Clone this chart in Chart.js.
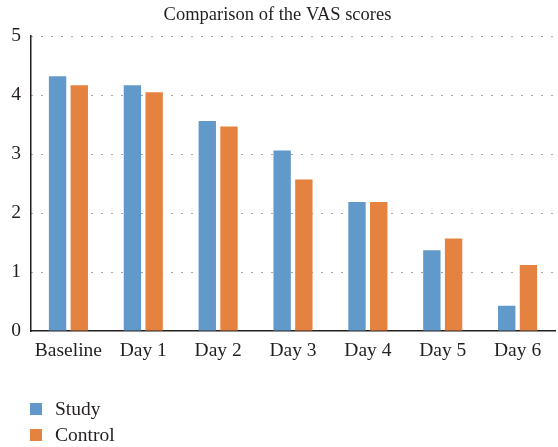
<!DOCTYPE html>
<html>
<head>
<meta charset="utf-8">
<script src="https://cdn.jsdelivr.net/npm/chart.js@4/dist/chart.umd.min.js"></script>
<style>
  html, body { margin: 0; padding: 0; background: #fff; }
  #wrap { position: relative; width: 558px; height: 447px; }
  #legend { position: absolute; left: 30px; top: 396px; font-family: "Liberation Serif", serif; font-size: 19.5px; color: #231f20; }
  #legend div { height: 26px; display: flex; align-items: center; }
  #legend span.box { display: inline-block; width: 12px; height: 12px; margin-right: 13px; }
</style>
</head>
<body>
<div id="wrap">
  <canvas id="c" width="558" height="447"></canvas>
  <div id="legend"></div>
</div>
<script>
// dados
const categories = ['Baseline', 'Day 1', 'Day 2', 'Day 3', 'Day 4', 'Day 5', 'Day 6'];
const studyValues = [4.32, 4.17, 3.56, 3.06, 2.19, 1.37, 0.43];
const controlValues = [4.17, 4.05, 3.47, 2.57, 2.19, 1.57, 1.12];
const seriesNames = ['Study', 'Control'];
const seriesColors = ['#6199cb', '#e6823f'];
const yTicks = [0, 1, 2, 3, 4, 5];

const fontFamily = '"Liberation Serif", "Times New Roman", serif';
const textColor = '#231f20';

const ctx = document.getElementById('c').getContext('2d');
const chart = new Chart(ctx, {
    type: 'bar',
    data: {
        labels: categories,
        datasets: [
            { label: seriesNames[0], data: studyValues, backgroundColor: seriesColors[0] },
            { label: seriesNames[1], data: controlValues, backgroundColor: seriesColors[1] }
        ]
    },
    options: {
        responsive: false,
        animation: false,
        layout: { padding: { left: 0, right: 3, top: 0, bottom: 0 } },
        datasets: {
            bar: { categoryPercentage: 0.58, barPercentage: 0.8 }
        },
        plugins: {
            legend: { display: false },
            tooltip: { enabled: false },
            title: {
                display: true,
                text: 'Comparison of the VAS scores',
                color: textColor,
                font: { family: fontFamily, size: 18.5, weight: 'normal' },
                padding: { top: 4, bottom: 10 }
            }
        },
        scales: {
            x: {
                grid: { display: false, drawTicks: false },
                border: { display: true, color: '#231f20', width: 1.5 },
                ticks: {
                    color: textColor,
                    font: { family: fontFamily, size: 19.5 },
                    padding: 8,
                    maxRotation: 0
                },
                afterFit: function(scale) { scale.height = 116; }
            },
            y: {
                min: 0,
                max: 5,
                afterBuildTicks: function(scale) {
                    scale.ticks = yTicks.map(v => ({ value: v }));
                },
                grid: {
                    drawTicks: false,
                    color: function(c) { return c.tick && c.tick.value === 0 ? 'rgba(0,0,0,0)' : '#4a4a4a'; },
                    lineWidth: 1
                },
                border: { display: true, color: '#231f20', width: 1.5, dash: [1, 9] },
                ticks: {
                    color: textColor,
                    font: { family: fontFamily, size: 19.5 },
                    padding: 10
                },
                afterFit: function(scale) { scale.width = 31; }
            }
        }
    }
});

// legenda em HTML, empilhada na vertical
const legendEl = document.getElementById('legend');
chart.data.datasets.forEach(function(ds) {
    const row = document.createElement('div');
    const box = document.createElement('span');
    box.className = 'box';
    box.style.background = ds.backgroundColor;
    row.appendChild(box);
    row.appendChild(document.createTextNode(ds.label));
    legendEl.appendChild(row);
});
</script>
</body>
</html>
